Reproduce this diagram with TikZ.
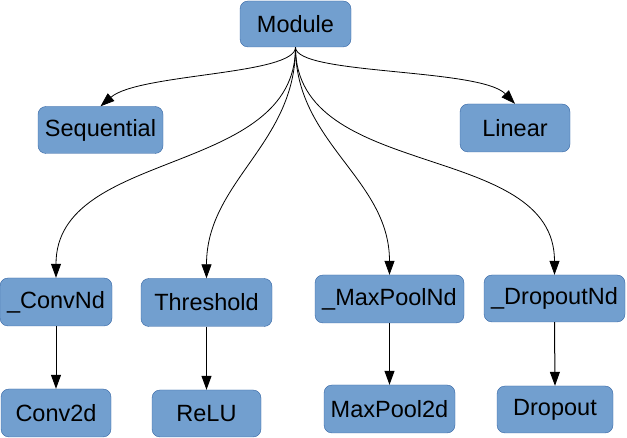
\documentclass[tikz,border=0pt]{standalone}
\usepackage{fontspec}
\setmainfont{Liberation Sans}
\usetikzlibrary{arrows.meta}
\definecolor{BoxFill}{HTML}{729FCF}
\definecolor{BoxLine}{HTML}{3465A4}
\tikzset{
  cls/.style={draw=BoxLine,fill=BoxFill,rounded corners=8pt,inner sep=0pt,
    minimum height=47pt,font=\fontsize{23.5}{28}\selectfont},
  inherit/.style={-{Triangle[length=14pt,width=10pt]},line width=0.8pt}
}

\begin{document}
\begin{tikzpicture}[x=1pt,y=1pt]
\useasboundingbox (0,0) rectangle (627,-438);
% base class and its direct children
\node[cls,minimum width=111pt,minimum height=46pt] (module) at (295.5,-24) {Module};
\node[cls,minimum width=125pt] (seq) at (100.5,-130) {Sequential};
\node[cls,minimum width=110pt,minimum height=48pt] (lin) at (515,-128) {Linear};
\node[cls,minimum width=112pt,minimum height=48pt] (convnd) at (56,-302) {\_ConvNd};
\node[cls,minimum width=131pt,minimum height=48pt] (thr) at (206.5,-302.5) {Threshold};
\node[cls,minimum width=149pt,minimum height=48pt] (poolnd) at (389.5,-299) {\_MaxPoolNd};
\node[cls,minimum width=141pt] (dropnd) at (554.5,-298.5) {\_DropoutNd};
% concrete layers
\node[cls,minimum width=110pt,minimum height=48pt] (conv) at (56,-413) {Conv2d};
\node[cls,minimum width=109pt] (relu) at (206.5,-413.5) {ReLU};
\node[cls,minimum width=131pt,minimum height=48pt] (pool) at (389.5,-409) {MaxPool2d};
\node[cls,minimum width=116pt] (drop) at (555,-409.5) {Dropout};
% inheritance arrows
\draw[inherit] (module.south) .. controls +(0,-28) and +(38,33) .. (seq.north);
\draw[inherit] (module.south) .. controls +(0,-28) and +(-35,36) .. (lin.north);
\foreach \t in {convnd,thr,poolnd,dropnd}
  \draw[inherit] (module.south) to[out=-90,in=90] (\t.north);
\foreach \a/\b in {convnd/conv,thr/relu,poolnd/pool,dropnd/drop}
  \draw[inherit,line width=1pt] (\a.south) -- (\b.north);
\end{tikzpicture}
\end{document}
